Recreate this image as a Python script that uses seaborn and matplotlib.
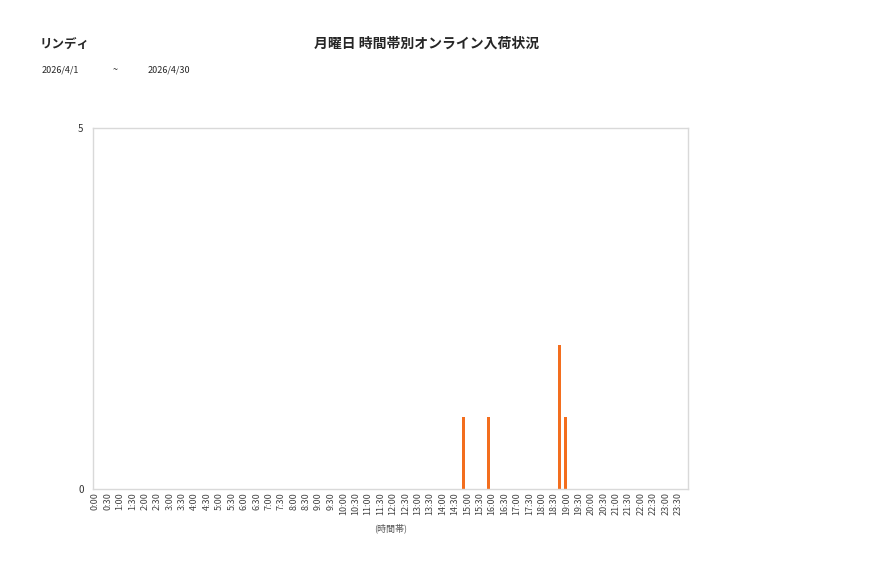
import pandas as pd
import numpy as np
import matplotlib
matplotlib.use("Agg")
import matplotlib.pyplot as plt
from matplotlib.transforms import ScaledTranslation
import seaborn as sns

# time slots 0:00 .. 23:30
slots = ["{}:{:02d}".format(h, m) for h in range(24) for m in (0, 30)]
# Mondays in the period (one series each)
mondays = ["4/6", "4/13", "4/20", "4/27"]
week_counts = {
    "4/6": {"19:00": 1},
    "4/13": {},
    "4/20": {"18:30": 2},
    "4/27": {"14:30": 1, "15:30": 1},
}

store = "リンディ"
title = "月曜日 時間帯別オンライン入荷状況"
date_from = "2026/4/1"
date_to = "2026/4/30"

sns.set_style("white")
plt.rcParams["font.family"] = ["Noto Sans CJK JP", "DejaVu Sans"]

rows = []
for d in mondays:
    for s in slots:
        rows.append({"slot": s, "day": d, "count": week_counts[d].get(s, 0)})
df = pd.DataFrame(rows)

fig = plt.figure(figsize=(8.77, 5.78), dpi=100)
ax = fig.add_axes([0.1063, 0.154, 0.6786, 0.6245])
sns.barplot(data=df, x="slot", y="count", hue="day", hue_order=mondays,
            palette=["#F36E1E"] * 4, width=1.0, saturation=1, linewidth=0,
            legend=False, ax=ax)

ax.set_ylim(0, 5)
ax.set_yticks([0, 5])
ax.set_xlim(-0.5, 47.5)
ax.tick_params(axis="x", labelrotation=90, labelsize=6.5, colors="#444444", length=0, pad=2)
ax.tick_params(axis="y", labelsize=7, colors="#333333", length=0, pad=7)
shift = ScaledTranslation(-4 / 100, 0, fig.dpi_scale_trans)
for lab in ax.get_xticklabels():
    lab.set_transform(lab.get_transform() + shift)
for s in ax.spines.values():
    s.set_color("#d9d9d9")
    s.set_linewidth(1)
ax.set_ylabel("")
ax.set_xlabel("(時間帯)", fontsize=6.5, color="#555555", labelpad=6)

fig.text(40 / 877, 1 - 44 / 578, store, fontsize=9, fontweight="bold", va="center", ha="left")
fig.text(427 / 877, 1 - 44 / 578, title, fontsize=10, fontweight="bold", va="center", ha="center")
fig.text(42 / 877, 1 - 70 / 578, date_from, fontsize=6.5, va="center", ha="left")
fig.text(113 / 877, 1 - 70 / 578, "~", fontsize=6.5, va="center", ha="left")
fig.text(148 / 877, 1 - 70 / 578, date_to, fontsize=6.5, va="center", ha="left")

fig.savefig("out.png", dpi=100)
